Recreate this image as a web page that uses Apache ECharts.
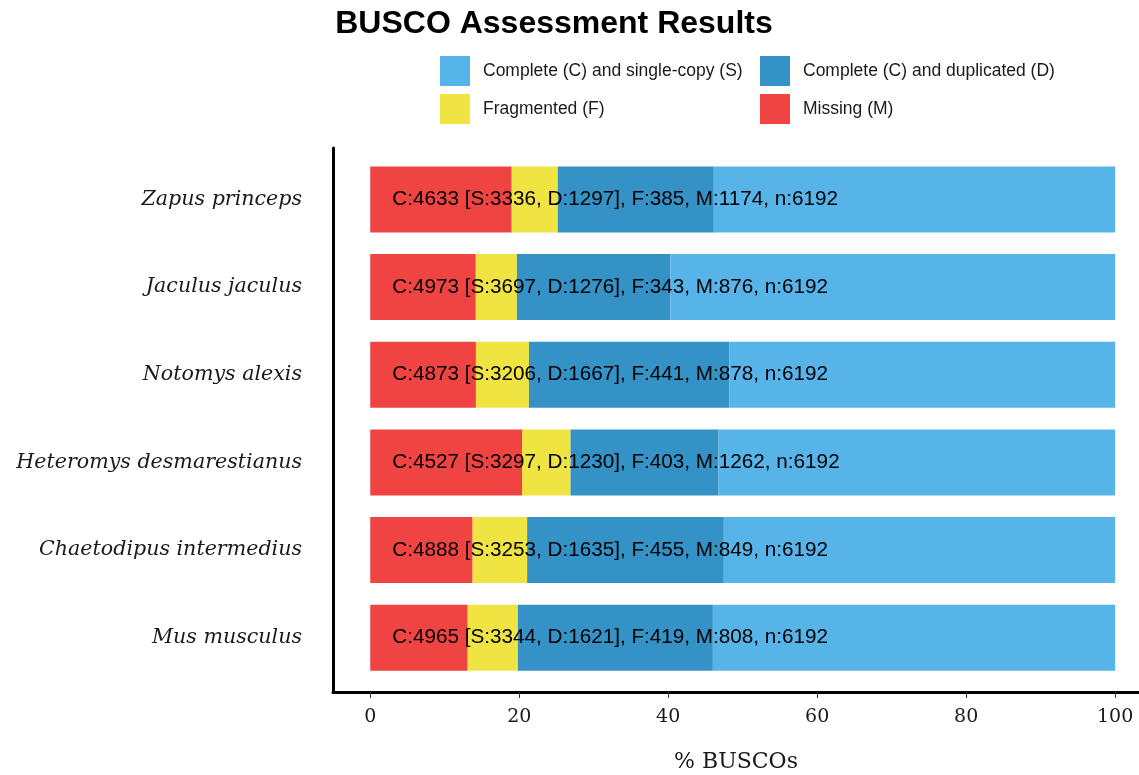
<!DOCTYPE html>
<html>
<head>
<meta charset="utf-8">
<script src="https://cdn.jsdelivr.net/npm/echarts@6/dist/echarts.min.js"></script>
<style>html,body{margin:0;padding:0;background:#fff}#c{width:1139px;height:775px}</style>
</head>
<body>
<div id="c"></div>
<script>
var species = ["Zapus princeps", "Jaculus jaculus", "Notomys alexis", "Heteromys desmarestianus", "Chaetodipus intermedius", "Mus musculus"];
var singleCopy = [3336, 3697, 3206, 3297, 3253, 3344];
var duplicated = [1297, 1276, 1667, 1230, 1635, 1621];
var fragmented = [385, 343, 441, 403, 455, 419];
var missing = [1174, 876, 878, 1262, 849, 808];
var total = [6192, 6192, 6192, 6192, 6192, 6192];
var xTicks = [0, 20, 40, 60, 80, 100];

var names = {
  S: "Complete (C) and single-copy (S)",
  D: "Complete (C) and duplicated (D)",
  F: "Fragmented (F)",
  M: "Missing (M)"
};
var colors = { S: "#56B4E9", D: "#3492C7", F: "#F0E442", M: "#F04442" };

function pct(arr) { return arr.map(function (v, i) { return v / total[i] * 100; }); }
function labelText(i) {
  return "C:" + (singleCopy[i] + duplicated[i]) + " [S:" + singleCopy[i] + ", D:" + duplicated[i] +
    "], F:" + fragmented[i] + ", M:" + missing[i] + ", n:" + total[i];
}

var chart = echarts.init(document.getElementById('c'), null, { renderer: 'canvas' });
var serif = "DejaVu Serif";
var sans = "Liberation Sans";

var option = {
  backgroundColor: '#fff',
  animation: false,
  title: {
    text: "BUSCO Assessment Results",
    left: 549, top: 3, textAlign: 'center',
    textStyle: { fontFamily: sans, fontWeight: 'bold', fontSize: 32, color: '#000' }
  },
  legend: [
    {
      data: [names.S, names.F], orient: 'vertical', left: 435, top: 51,
      itemWidth: 30, itemHeight: 30, itemGap: 8, icon: 'rect',
      textStyle: { fontFamily: sans, fontSize: 17.5, color: '#1a1a1a', padding: [0, 0, 0, 8] }
    },
    {
      data: [names.D, names.M], orient: 'vertical', left: 755, top: 51,
      itemWidth: 30, itemHeight: 30, itemGap: 8, icon: 'rect',
      textStyle: { fontFamily: sans, fontSize: 17.5, color: '#1a1a1a', padding: [0, 0, 0, 8] }
    }
  ],
  grid: [
    { left: 333, right: 0, top: 155.6, bottom: 93.4, outerBoundsMode: 'none', containLabel: false },
    { left: 333, right: 0, top: 148, bottom: 83, outerBoundsMode: 'none', containLabel: false }
  ],
  xAxis: [
    { gridIndex: 0, type: 'value', min: -5, max: 103.2, show: false, splitLine: { show: false } },
    {
      gridIndex: 1, type: 'value', min: -5, max: 103.2,
      axisLine: { show: true, onZero: false, lineStyle: { color: '#000', width: 3 } },
      axisTick: { show: true, customValues: xTicks, length: 6, lineStyle: { color: '#333', width: 1 } },
      axisLabel: { customValues: xTicks, fontFamily: serif, fontSize: 19, color: '#1a1a1a', margin: 16 },
      splitLine: { show: false },
      name: "% BUSCOs", nameLocation: 'middle', nameGap: 59,
      nameTextStyle: { fontFamily: serif, fontSize: 22, color: '#1a1a1a' }
    }
  ],
  yAxis: [
    {
      gridIndex: 0, type: 'category', data: species, inverse: true,
      axisLine: { show: false }, axisTick: { show: false },
      axisLabel: { fontFamily: serif, fontStyle: 'italic', fontSize: 20.6, color: '#1a1a1a', margin: 31 }
    },
    {
      gridIndex: 1, type: 'value', min: 0, max: 1,
      axisLine: { show: true, onZero: false, lineStyle: { color: '#000', width: 3 } },
      axisTick: { show: false }, axisLabel: { show: false }, splitLine: { show: false }
    }
  ],
  series: [
    {
      name: names.M, type: 'bar', stack: 'b', xAxisIndex: 0, yAxisIndex: 0,
      data: pct(missing), barWidth: 66, itemStyle: { color: colors.M },
      label: {
        show: true, position: 'insideLeft', distance: 22,
        formatter: function (p) { return labelText(p.dataIndex); },
        fontFamily: sans, fontSize: 20.7, color: '#000'
      },
      z: 2
    },
    { name: names.F, type: 'bar', stack: 'b', data: pct(fragmented), barWidth: 66, itemStyle: { color: colors.F }, z: 1 },
    { name: names.D, type: 'bar', stack: 'b', data: pct(duplicated), barWidth: 66, itemStyle: { color: colors.D }, z: 1 },
    { name: names.S, type: 'bar', stack: 'b', data: pct(singleCopy), barWidth: 66, itemStyle: { color: colors.S }, z: 1 }
  ]
};
chart.setOption(option);
</script>
</body>
</html>
